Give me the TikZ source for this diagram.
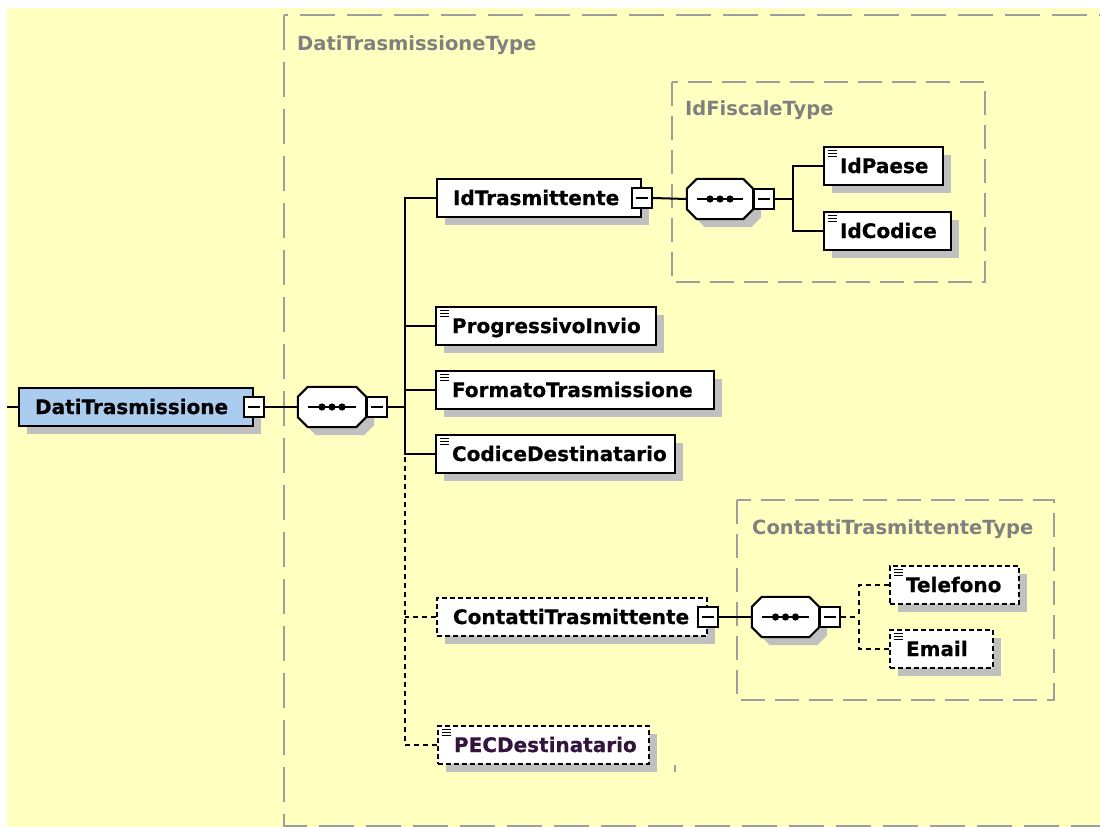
\documentclass[tikz,border=0pt]{standalone}
\usepackage{fontspec}
\newfontfamily\dvsans{DejaVu Sans}
\newfontfamily\dvsansheavy{DejaVu Sans Bold}[FakeBold=0.6]
\usetikzlibrary{calc,shadows}

\definecolor{bgyellow}{RGB}{255,255,192}
\definecolor{rootblue}{RGB}{170,204,238}
\definecolor{shadowgray}{RGB}{192,192,192}
\definecolor{typegray}{RGB}{158,158,158}
\definecolor{typetext}{RGB}{128,128,128}
\definecolor{pectext}{RGB}{50,20,60}

\tikzset{
  labelfont/.style={font=\dvsans\bfseries\fontsize{19.5}{22}\selectfont},
  elemfont/.style={font=\dvsansheavy\fontsize{20}{22}\selectfont},
  elem/.style={elemfont, draw=black, line width=2pt, fill=white, anchor=west,
    minimum height=38pt, inner xsep=16pt, inner ysep=0pt,
    text height=14pt, text depth=0pt, align=left,
    drop shadow={draw=none, fill=shadowgray, opacity=1,
      shadow xshift=8pt, shadow yshift=-8pt}},
  optelem/.style={elem, dash pattern=on 5pt off 3pt},
  minusbox/.style={draw=black, line width=1.8pt, fill=white, minimum size=20pt,
    inner sep=0pt, path picture={\draw[line width=1.5pt]
      ([xshift=4pt]path picture bounding box.west) --
      ([xshift=-4pt]path picture bounding box.east);}},
  seqbox/.style={minimum width=68pt, minimum height=40pt, inner sep=0pt},
  typebox/.style={draw=typegray, line width=2pt, dash pattern=on 24pt off 10pt},
  outerbox/.style={draw=typegray, line width=2pt, dash pattern=on 35pt off 12pt},
  typelabel/.style={labelfont, text=typetext, anchor=base west, inner sep=0pt},
  conn/.style={draw=black, line width=2pt},
  dconn/.style={conn, dash pattern=on 5pt off 4pt},
  iconline/.style={draw=black, line width=1.2pt}
}

% sequence compositor: octagon with shadow and the dotted bar
\newcommand\seqdraw[1]{%
  \fill[shadowgray] ([shift={(18,8)}]#1.north west) -- ([shift={(-2,8)}]#1.north east)
    -- ([shift={(8,18)}]#1.north east) -- ([shift={(8,-2)}]#1.south east)
    -- ([shift={(-2,8)}]#1.south east) -- ([shift={(18,8)}]#1.south west)
    -- ([shift={(8,-2)}]#1.south west) -- ([shift={(8,18)}]#1.north west) -- cycle;
  \filldraw[fill=white, draw=black, line width=2pt]
    ([shift={(10,0)}]#1.north west) -- ([shift={(-10,0)}]#1.north east)
    -- ([shift={(0,10)}]#1.north east) -- ([shift={(0,-10)}]#1.south east)
    -- ([shift={(-10,0)}]#1.south east) -- ([shift={(10,0)}]#1.south west)
    -- ([shift={(0,-10)}]#1.south west) -- ([shift={(0,10)}]#1.north west) -- cycle;
  \draw[line width=1.8pt] ([shift={(10,0)}]#1.west) -- ([shift={(-10,0)}]#1.east);
  \foreach \dx in {-10,0,10} \fill ([shift={(\dx,0)}]#1.center) circle (3.6pt);
}

% simple-type marker in the top left corner of an element box
\newcommand\elicon[1]{%
  \foreach \dy in {4.5,7.5,10.5}
    \draw[iconline] ([shift={(5,\dy)}]#1.north west) -- ++(9,0);
}

\begin{document}
\begin{tikzpicture}[x=1pt, y=-1pt]
\useasboundingbox (0,0) rectangle (1100,827);
\fill[white] (0,0) rectangle (1100,827);
\fill[bgyellow] (7,8) rectangle (1100,827);

\begin{scope}
\clip (0,0) rectangle (1100,827);

% complex type containers
\draw[outerbox] (284,15) rectangle (1120,826);
\node[typelabel] (lbl-dt) at (297,50) {DatiTrasmissioneType};
\draw[typebox] (672,82) rectangle (985,282);
\node[typelabel] (lbl-if) at (685,115) {IdFiscaleType};
\draw[typebox] (737,500) rectangle (1054,700);
\node[typelabel] (lbl-ct) at (752,534) {ContattiTrasmittenteType};

% elements
\node[elem, fill=rootblue, text width=202pt] (dt) at (18,407) {DatiTrasmissione};
\node[elem, text width=172pt] (idt) at (436,198) {IdTrasmittente};
\node[elem, text width=87pt] (idp) at (823,166) {IdPaese};
\node[elem, text width=95pt] (idc) at (823,231) {IdCodice};
\node[elem, text width=188pt] (pi) at (435,326) {ProgressivoInvio};
\node[elem, text width=246pt] (ft) at (435,390) {FormatoTrasmissione};
\node[elem, text width=207pt] (cd) at (435,454) {CodiceDestinatario};
\node[optelem, text width=238pt] (ct) at (436,617) {ContattiTrasmittente};
\node[optelem, text width=97pt] (tel) at (889,585) {Telefono};
\node[optelem, text width=71pt] (em) at (889,649) {Email};
\node[optelem, text width=179pt, text=pectext] (pec) at (437,745) {PECDestinatario};

% sequence compositors
\node[seqbox] (s1) at (332,407) {};
\seqdraw{s1}
\node[seqbox, minimum width=66pt] (s2) at (720,199) {};
\seqdraw{s2}
\node[seqbox, minimum width=67pt] (s3) at (785.5,617) {};
\seqdraw{s3}

% expand/collapse markers
\node[minusbox] (dt-m) at (dt.east) {};
\node[minusbox] (idt-m) at (idt.east) {};
\node[minusbox] (ct-m) at (ct.east) {};
\node[minusbox, anchor=west] (s1-m) at (s1.east) {};
\node[minusbox, anchor=west] (s2-m) at (s2.east) {};
\node[minusbox, anchor=west] (s3-m) at (s3.east) {};

% connectors
\coordinate (in) at (7,407);
\coordinate (b1) at (405,407);
\coordinate (b2) at (793,199);
\coordinate (b3) at (859,617);

\draw[conn] (in) -- (dt.west);
\draw[conn] (dt-m.east) -- (s1.west);
\draw[conn] (s1-m.east) -- (b1);
\draw[conn] (idt.west) -| (b1);
\draw[conn] (pi.west) -| (b1);
\draw[conn] (ft.west) -| (b1);
\draw[conn] (cd.west) -| (b1);
\draw[dconn] (ct.west) -- (ct.west -| b1);
\draw[dconn] (pec.west) -| (b1 |- cd.west);

\draw[conn] (idt-m.east) -- (s2.west);
\draw[conn] (s2-m.east) -- (b2);
\draw[conn] (idp.west) -| (b2);
\draw[conn] (idc.west) -| (b2);

\draw[conn] (ct-m.east) -- (s3.west);
\draw[dconn] (s3-m.east) -- (b3);
\draw[dconn] (tel.west) -| (b3);
\draw[dconn] (em.west) -| (b3);

% simple-type markers
\elicon{idp}
\elicon{idc}
\elicon{pi}
\elicon{ft}
\elicon{cd}
\elicon{tel}
\elicon{em}
\elicon{pec}

\draw[typegray, line width=1.5pt] (675,765) -- (675,772);
\end{scope}
\end{tikzpicture}
\end{document}
